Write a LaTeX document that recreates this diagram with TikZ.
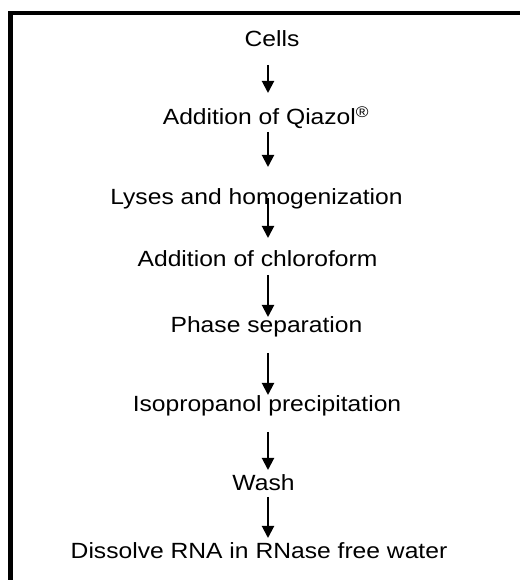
\documentclass[tikz,border=0pt]{standalone}
\usepackage{fontspec}
\setmainfont[FakeStretch=1.12]{Liberation Sans}
\usetikzlibrary{arrows.meta}
\begin{document}
\begin{tikzpicture}[x=1pt,y=1pt,
  steptext/.style={inner sep=0pt,anchor=base,font=\fontsize{22}{26}\selectfont},
  arr/.style={line width=2pt,-{Triangle[width=12pt,length=12pt]}},
  frame/.style={line width=4.5pt,line join=miter}]
\useasboundingbox (0,0) rectangle (520,580);
\draw[frame] (10.5,0) -- (10.5,567) -- (520,567);
\coordinate (ax) at (268,0);
\node[steptext] (n1) at (272,533) {Cells};
\node[steptext] (n2) at (266,455) {Addition of Qiazol\textsuperscript{®}};
\node[steptext] (n3) at (256.5,375) {Lyses and homogenization};
\node[steptext] (n4) at (257.5,313) {Addition of chloroform};
\node[steptext] (n5) at (266.5,247) {Phase separation};
\node[steptext] (n6) at (267,168) {Isopropanol precipitation};
\node[steptext] (n7) at (263.5,89) {Wash};
\node[steptext] (n8) at (259,21) {Dissolve RNA in RNase free water};
\draw[arr] ([yshift=-18pt]n1.base -| ax) -- ([yshift=32pt]n2.base -| ax);
\draw[arr] ([yshift=-7pt]n2.base -| ax) -- ([yshift=38pt]n3.base -| ax);
\draw[arr] ([yshift=7pt]n3.base -| ax) -- ([yshift=29pt]n4.base -| ax);
\draw[arr] ([yshift=-8pt]n4.base -| ax) -- ([yshift=16pt]n5.base -| ax);
\draw[arr] ([yshift=-20pt]n5.base -| ax) -- ([yshift=17pt]n6.base -| ax);
\draw[arr] ([yshift=-20pt]n6.base -| ax) -- ([yshift=21pt]n7.base -| ax);
\draw[arr] ([yshift=-6pt]n7.base -| ax) -- ([yshift=21pt]n8.base -| ax);
\end{tikzpicture}
\end{document}
